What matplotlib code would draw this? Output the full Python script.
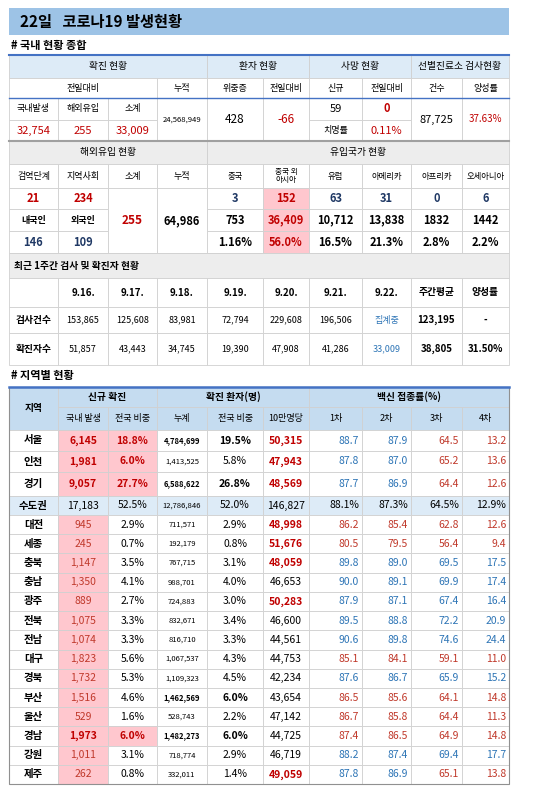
import matplotlib
matplotlib.use("Agg")
import matplotlib.pyplot as plt
from matplotlib.patches import Rectangle

plt.rcParams['font.family'] = ['Noto Sans CJK KR', 'DejaVu Sans']

# ---------------- data ----------------
title = "22일   코로나19 발생현황"
domestic_new = ["32,754", "255", "33,009"]
cumulative = "24,568,949"
critical, critical_diff = "428", "-66"
deaths_new, deaths_diff, fatality = "59", "0", "0.11%"
tests_count, positivity = "87,725", "37.63%"

import_cols = ["검역단계", "지역사회", "소계", "누적"]
import_vals = ["21", "234"]
import_nat = ["146", "109"]
import_sub, import_cum = "255", "64,986"
country_cols = ["중국", "중국 외\n아시아", "유럽", "아메리카", "아프리카", "오세아니아"]
country_today = ["3", "152", "63", "31", "0", "6"]
country_cum = ["753", "36,409", "10,712", "13,838", "1832", "1442"]
country_pct = ["1.16%", "56.0%", "16.5%", "21.3%", "2.8%", "2.2%"]

week_dates = ["9.16.", "9.17.", "9.18.", "9.19.", "9.20.", "9.21.", "9.22.", "주간평균", "양성률"]
week_tests = ["153,865", "125,608", "83,981", "72,794", "229,608", "196,506", "집계중", "123,195", "-"]
week_cases = ["51,857", "43,443", "34,745", "19,390", "47,908", "41,286", "33,009", "38,805", "31.50%"]

regions = ["서울", "인천", "경기", "수도권", "대전", "세종", "충북", "충남", "광주", "전북",
           "전남", "대구", "경북", "부산", "울산", "경남", "강원", "제주"]
reg_new = ["6,145", "1,981", "9,057", "17,183", "945", "245", "1,147", "1,350", "889", "1,075",
           "1,074", "1,823", "1,732", "1,516", "529", "1,973", "1,011", "262"]
reg_new_share = ["18.8%", "6.0%", "27.7%", "52.5%", "2.9%", "0.7%", "3.5%", "4.1%", "2.7%", "3.3%",
                 "3.3%", "5.6%", "5.3%", "4.6%", "1.6%", "6.0%", "3.1%", "0.8%"]
reg_cum = ["4,784,699", "1,413,525", "6,588,622", "12,786,846", "711,571", "192,179", "767,715",
           "988,701", "724,883", "832,671", "816,710", "1,067,537", "1,109,323", "1,462,569",
           "528,743", "1,482,273", "718,774", "332,011"]
reg_cum_share = ["19.5%", "5.8%", "26.8%", "52.0%", "2.9%", "0.8%", "3.1%", "4.0%", "3.0%", "3.4%",
                 "3.3%", "4.3%", "4.5%", "6.0%", "2.2%", "6.0%", "2.9%", "1.4%"]
reg_per100k = ["50,315", "47,943", "48,569", "146,827", "48,998", "51,676", "48,059", "46,653",
               "50,283", "46,600", "44,561", "44,753", "42,234", "43,654", "47,142", "44,725",
               "46,719", "49,059"]
vac1 = ["88.7", "87.8", "87.7", "88.1%", "86.2", "80.5", "89.8", "90.0", "87.9", "89.5", "90.6",
        "85.1", "87.6", "86.5", "86.7", "87.4", "88.2", "87.8"]
vac2 = ["87.9", "87.0", "86.9", "87.3%", "85.4", "79.5", "89.0", "89.1", "87.1", "88.8", "89.8",
        "84.1", "86.7", "85.6", "85.8", "86.5", "87.4", "86.9"]
vac3 = ["64.5", "65.2", "64.4", "64.5%", "62.8", "56.4", "69.5", "69.9", "67.4", "72.2", "74.6",
        "59.1", "65.9", "64.1", "64.4", "64.9", "69.4", "65.1"]
vac4 = ["13.2", "13.6", "12.6", "12.9%", "12.6", "9.4", "17.5", "17.4", "16.4", "20.9", "24.4",
        "11.0", "15.2", "14.8", "11.3", "14.8", "17.7", "13.8"]

# ---------------- styles ----------------
vac_style = ["bbrr", "bbrr", "bbrr", "kkkk", "rrrr", "rrrr", "bbbb", "bbbb", "bbbb", "bbbb", "bbbb",
             "rrrr", "bbbb", "rrrr", "rrrr", "rrrr", "bbbb", "bbrr"]
hot = {"서울", "인천", "경기", "경남"}
bold_cum = {"서울", "경기", "부산", "경남"}
bold_100k = {"서울", "인천", "경기", "대전", "세종", "충북", "광주", "제주"}

DRED = "#c00000"
RED = "#c0392b"
BLUE = "#2e75b6"
NAVY = "#1f3864"
PINK = "#ffc7ce"
LBLUE = "#ddebf7"
HBLUE = "#c5dcf0"
GRAY = "#ededed"
GRID = "#d0d0d0"

fig = plt.figure(figsize=(5.5, 7.92), dpi=100)
ax = fig.add_axes([0, 0, 1, 1])
ax.set_xlim(0, 550)
ax.set_ylim(792, 0)
ax.axis("off")


def cell(x0, x1, y0, y1, text="", color="black", bold=False, size=7.5, bg=None,
         ha="center", edge=GRID):
    ax.add_patch(Rectangle((x0, y0), x1 - x0, y1 - y0, facecolor=bg if bg else "white",
                           edgecolor=edge, linewidth=0.6))
    if text:
        if ha == "center":
            tx = (x0 + x1) / 2
        elif ha == "right":
            tx = x1 - 3
        else:
            tx = x0 + 5
        ax.text(tx, (y0 + y1) / 2, text, ha=ha, va="center", color=color,
                fontweight="bold" if bold else "normal", fontsize=size, linespacing=1.0)


X = [9, 58, 108, 157, 207, 263, 309, 362, 411, 462, 509]

# title
ax.add_patch(Rectangle((9, 8), 500, 27, facecolor="#9dc3e6", edgecolor="none"))
ax.text(20, 21.5, title, ha="left", va="center", fontsize=11, fontweight="bold")
ax.text(11, 45, "# 국내 현황 종합", ha="left", va="center", fontsize=8, fontweight="bold")

# ---- table 1 ----
y = [55, 78, 98, 120, 141]
for x0, x1, t in [(X[0], X[4], "확진 현황"), (X[4], X[6], "환자 현황"),
                  (X[6], X[8], "사망 현황"), (X[8], X[10], "선별진료소 검사현황")]:
    cell(x0, x1, y[0], y[1], t, bg=LBLUE, size=7)
for x0, x1, t in [(X[0], X[3], "전일대비"), (X[3], X[4], "누적"), (X[4], X[5], "위중증"),
                  (X[5], X[6], "전일대비"), (X[6], X[7], "신규"), (X[7], X[8], "전일대비"),
                  (X[8], X[9], "건수"), (X[9], X[10], "양성률")]:
    cell(x0, x1, y[1], y[2], t, size=6.5)
for i, t in enumerate(["국내발생", "해외유입", "소계"]):
    cell(X[i], X[i + 1], y[2], y[3], t, size=6.5)
    cell(X[i], X[i + 1], y[3], y[4], domestic_new[i], color=DRED, size=8)
cell(X[3], X[4], y[2], y[4], cumulative, size=5.5)
cell(X[4], X[5], y[2], y[4], critical, size=8.5)
cell(X[5], X[6], y[2], y[4], critical_diff, color=DRED, size=8.5)
cell(X[6], X[7], y[2], y[3], deaths_new, size=8)
cell(X[7], X[8], y[2], y[3], deaths_diff, color=DRED, size=8, bold=True)
cell(X[6], X[7], y[3], y[4], "치명률", size=6.5)
cell(X[7], X[8], y[3], y[4], fatality, color=DRED, size=8)
cell(X[8], X[9], y[2], y[4], tests_count, size=8)
cell(X[9], X[10], y[2], y[4], positivity, color=DRED, size=7)
ax.plot([9, 509], [55, 55], color="#4472c4", lw=1.5)
ax.plot([9, 509], [98, 98], color="#4472c4", lw=1)

# ---- table 2 ----
y = [141, 164, 188, 209, 231, 253]
cell(X[0], X[4], y[0], y[1], "해외유입 현황", bg=GRAY, size=7)
cell(X[4], X[10], y[0], y[1], "유입국가 현황", bg=GRAY, size=7)
for i, t in enumerate(import_cols):
    cell(X[i], X[i + 1], y[1], y[2], t, size=6.5)
for i, t in enumerate(country_cols):
    cell(X[4 + i], X[5 + i], y[1], y[2], t, size=6 if "\n" not in t else 5.5)
for i in range(2):
    cell(X[i], X[i + 1], y[2], y[3], import_vals[i], color=DRED, size=8, bold=True)
    cell(X[i], X[i + 1], y[3], y[4], ["내국인", "외국인"][i], size=6.5, bold=True)
    cell(X[i], X[i + 1], y[4], y[5], import_nat[i], color=NAVY, size=8, bold=True)
cell(X[2], X[3], y[2], y[5], import_sub, color=DRED, size=8.5, bold=True)
cell(X[3], X[4], y[2], y[5], import_cum, size=8, bold=True)
for i in range(6):
    special = i == 1
    bg = PINK if special else None
    cell(X[4 + i], X[5 + i], y[2], y[3], country_today[i], color=DRED if special else NAVY,
         size=8, bold=True, bg=bg)
    cell(X[4 + i], X[5 + i], y[3], y[4], country_cum[i], color=DRED if special else "black",
         size=8, bold=True, bg=bg)
    cell(X[4 + i], X[5 + i], y[4], y[5], country_pct[i], color=DRED if special else "black",
         size=8, bold=True, bg=bg)
ax.plot([9, 509], [141, 141], color="#a0a0a0", lw=1.5)

# ---- table 3 ----
y = [253, 278, 307, 333, 365]
cell(X[0], X[10], y[0], y[1], "최근 1주간 검사 및 확진자 현황", bg=GRAY, size=7, bold=True, ha="left")
cell(X[0], X[1], y[1], y[2], "")
cell(X[0], X[1], y[2], y[3], "검사건수", size=7, bold=True)
cell(X[0], X[1], y[3], y[4], "확진자수", size=7, bold=True)
for i in range(9):
    cell(X[1 + i], X[2 + i], y[1], y[2], week_dates[i], size=7, bold=True)
    c = BLUE if i == 6 else "black"
    b = i >= 7
    sz = 7 if b else 6.5
    cell(X[1 + i], X[2 + i], y[2], y[3], week_tests[i], color=c, size=sz, bold=b)
    cell(X[1 + i], X[2 + i], y[3], y[4], week_cases[i], color=c, size=sz, bold=b)

ax.text(11, 375, "# 지역별 현황", ha="left", va="center", fontsize=8, fontweight="bold")

# ---- table 4 ----
h0, h1, h2 = 387, 407, 430
cell(X[0], X[1], h0, h2, "지역", bg=HBLUE, size=7, bold=True)
cell(X[1], X[3], h0, h1, "신규 확진", bg=HBLUE, size=7, bold=True)
cell(X[3], X[6], h0, h1, "확진 환자(명)", bg=HBLUE, size=7, bold=True)
cell(X[6], X[10], h0, h1, "백신 접종률(%)", bg=HBLUE, size=7, bold=True)
for i, t in enumerate(["국내 발생", "전국 비중", "누계", "전국 비중", "10만명당",
                       "1차", "2차", "3차", "4차"]):
    cell(X[1 + i], X[2 + i], h1, h2, t, bg=HBLUE, size=6.5)
ax.plot([9, 509], [h0, h0], color="#4472c4", lw=1.8)

row_edges = [430, 451, 472, 496, 515]
step = (784 - 515) / 14
for k in range(1, 15):
    row_edges.append(515 + step * k)

cmap = {"b": BLUE, "r": RED, "k": "black"}
for r, name in enumerate(regions):
    y0, y1 = row_edges[r], row_edges[r + 1]
    capital = name == "수도권"
    rowbg = LBLUE if capital else None
    cell(X[0], X[1], y0, y1, name, size=7.5, bold=True, bg=rowbg)
    if capital:
        cell(X[1], X[2], y0, y1, reg_new[r], size=7.5, bg=rowbg)
        cell(X[2], X[3], y0, y1, reg_new_share[r], size=7.5, bg=rowbg)
        cell(X[3], X[4], y0, y1, reg_cum[r], size=5.5, bg=rowbg)
        cell(X[4], X[5], y0, y1, reg_cum_share[r], size=7.5, bg=rowbg)
        cell(X[5], X[6], y0, y1, reg_per100k[r], size=7.5, bg=rowbg)
    else:
        h = name in hot
        cell(X[1], X[2], y0, y1, reg_new[r], color=DRED if h else RED, size=7.5, bold=h, bg=PINK)
        cell(X[2], X[3], y0, y1, reg_new_share[r], color=DRED if h else "black", size=7.5,
             bold=h, bg=PINK if h else None)
        bc = name in bold_cum
        cell(X[3], X[4], y0, y1, reg_cum[r], size=5.5, bold=bc)
        cell(X[4], X[5], y0, y1, reg_cum_share[r], size=7.5, bold=bc)
        b1 = name in bold_100k
        cell(X[5], X[6], y0, y1, reg_per100k[r], color=DRED if b1 else "black", size=7.5, bold=b1)
    for j, vals in enumerate([vac1, vac2, vac3, vac4]):
        cell(X[6 + j], X[7 + j], y0, y1, vals[r], color=cmap[vac_style[r][j]], size=7.5,
             ha="right", bg=rowbg)

ax.add_patch(Rectangle((9, 387), 500, 784 - 387, fill=False, edgecolor="#909090", lw=0.8))

fig.savefig("out.png", dpi=100)
